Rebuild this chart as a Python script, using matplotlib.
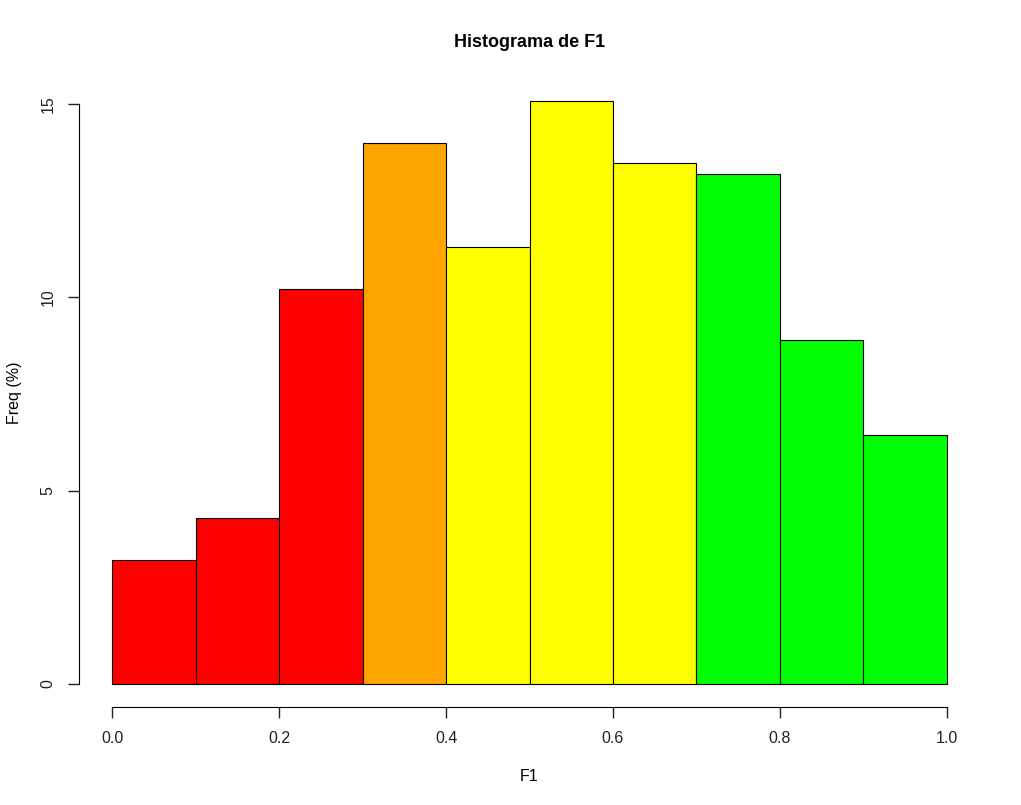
import matplotlib
matplotlib.use('Agg')
import matplotlib.pyplot as plt

# histogram bins and frequencies (%)
bin_edges = [0.0, 0.1, 0.2, 0.3, 0.4, 0.5, 0.6, 0.7, 0.8, 0.9, 1.0]
freq = [3.21, 4.30, 10.21, 13.99, 11.30, 15.08, 13.47, 13.19, 8.89, 6.45]
bar_colors = ['#FF0000', '#FF0000', '#FF0000', '#FFA500', '#FFFF00',
              '#FFFF00', '#FFFF00', '#00FF00', '#00FF00', '#00FF00']
x_ticks = [0.0, 0.2, 0.4, 0.6, 0.8, 1.0]
x_tick_labels = ['0.0', '0.2', '0.4', '0.6', '0.8', '1.0']
y_ticks = [0, 5, 10, 15]

plt.rcParams['font.family'] = ['Liberation Sans', 'DejaVu Sans']

fig = plt.figure(figsize=(10.21, 8.05), dpi=100)
ax = fig.add_axes([79 / 1021, 1 - 707 / 805, (980 - 79) / 1021, (707 - 78) / 805])

lefts = bin_edges[:-1]
widths = [b - a for a, b in zip(bin_edges[:-1], bin_edges[1:])]
ax.bar(lefts, freq, width=widths, align='edge', color=bar_colors,
       edgecolor='black', linewidth=0.8)

ymax = max(freq)
ax.set_xlim(-0.04, 1.04)
ax.set_ylim(-0.04 * ymax, ymax * 1.04)

for s in ['top', 'right']:
    ax.spines[s].set_visible(False)
ax.spines['bottom'].set_bounds(0, 1)
ax.spines['left'].set_bounds(0, 15)

ax.set_xticks(x_ticks)
ax.set_xticklabels(x_tick_labels)
ax.set_yticks(y_ticks)
ax.set_yticklabels([str(v) for v in y_ticks], rotation=90, va='center')
ax.tick_params(length=8, width=1, labelsize=11.5, pad=9, colors='#222222')

ax.set_xlabel('F1', fontsize=11.5, labelpad=17)
ax.set_ylabel('Freq (%)', fontsize=11.5, labelpad=13)
ax.set_title('Histograma de F1', fontsize=13, fontweight='bold', pad=22)

fig.savefig('out.png', dpi=100)
